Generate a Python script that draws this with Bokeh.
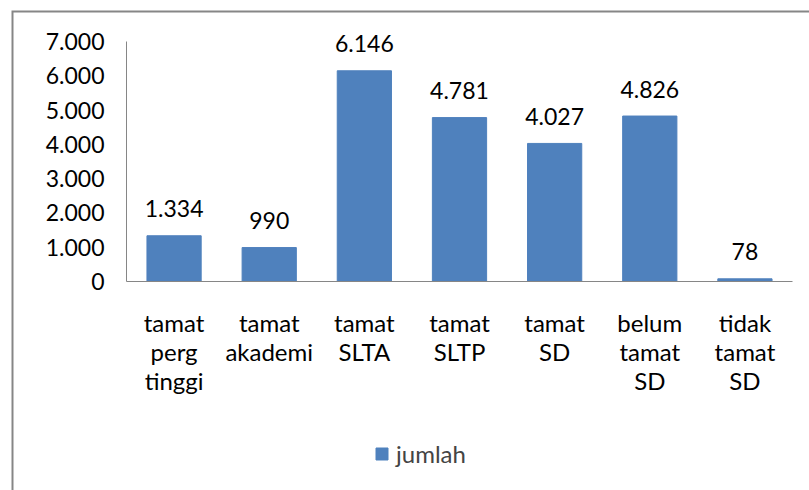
from bokeh.plotting import figure
from bokeh.models import ColumnDataSource, Range1d, FixedTicker, Legend, LegendItem, LinearAxis
from bokeh.embed import file_html
from bokeh.resources import INLINE
from bokeh.core.properties import value

categories = ["tamat\nperg\ntinggi", "tamat\nakademi", "tamat\nSLTA", "tamat\nSLTP",
              "tamat\nSD", "belum\ntamat\nSD", "tidak\ntamat\nSD"]
jumlah = [1334, 990, 6146, 4781, 4027, 4826, 78]
value_labels = ["1.334", "990", "6.146", "4.781", "4.027", "4.826", "78"]
y_ticks = [0, 1000, 2000, 3000, 4000, 5000, 6000, 7000]
y_tick_labels = ["0", "1.000", "2.000", "3.000", "4.000", "5.000", "6.000", "7.000"]
series_name = "jumlah"

FONT = "Lato"
BLUE = "#4F81BD"
GRAY = "#868686"

# layout in pixels (canvas == frame)
W, H = 809, 490
AX_L, AX_R = 126, 792       # category axis extent
Y0_PX, YMAX_PX = 281, 41    # pixel rows of 0 and of the top tick
n = len(categories)
ppx = (AX_R - AX_L) / n
ppy = (Y0_PX - YMAX_PX) / y_ticks[-1]
def x_of(px): return -0.5 + (px - AX_L) / ppx
def y_of(py): return (Y0_PX - py) / ppy

idx = list(range(n))
src = ColumnDataSource(dict(x=idx, val=jumlah, lab=value_labels))

p = figure(width=W, height=H, output_backend="svg", toolbar_location=None,
           x_range=Range1d(x_of(0), x_of(W)), y_range=Range1d(y_of(H), y_of(0)),
           x_axis_location=None, y_axis_location=None,
           min_border_left=0, min_border_right=0, min_border_top=0, min_border_bottom=0)
p.outline_line_color = None
p.xgrid.grid_line_color = None
p.ygrid.grid_line_color = None

# chart-area border: only its top and left edges fall inside the picture
p.line(x=[x_of(12), x_of(12), x_of(W + 50)], y=[y_of(H + 50), y_of(11), y_of(11)],
       line_color=GRAY, line_width=2, line_join="miter")

r = p.vbar(x="x", top="val", width=0.57, source=src, fill_color=BLUE, line_color=BLUE)
p.text(x="x", y="val", text="lab", source=src, text_align="center", text_baseline="middle",
       y_offset=-27, text_font=value(FONT), text_font_size="23px", text_color="black")

xaxis = LinearAxis(fixed_location=0, bounds=(-0.5, n - 0.5),
                   ticker=FixedTicker(ticks=idx),
                   major_label_overrides={i: c for i, c in zip(idx, categories)})
yaxis = LinearAxis(fixed_location=-0.5, bounds=(y_ticks[0], y_ticks[-1]),
                   ticker=FixedTicker(ticks=y_ticks),
                   major_label_overrides={t: l for t, l in zip(y_ticks, y_tick_labels)})
for ax in (xaxis, yaxis):
    ax.axis_line_color = GRAY
    ax.major_tick_line_color = None
    ax.minor_tick_line_color = None
    ax.major_label_text_font = FONT
    ax.major_label_text_color = "black"
xaxis.major_label_text_font_size = "24px"
yaxis.major_label_text_font_size = "23px"
yaxis.major_label_standoff = 16
xaxis.major_label_standoff = 20
xaxis.major_label_text_line_height = 1.0
p.add_layout(xaxis, "below")
p.add_layout(yaxis, "left")

legend = Legend(items=[LegendItem(label=series_name, renderers=[r])], location=(374, 22),
                orientation="horizontal", padding=0, margin=0, border_line_color=None,
                background_fill_alpha=0, glyph_width=15, glyph_height=15, label_height=15,
                label_standoff=7, label_text_font=FONT, label_text_font_size="24px")
p.add_layout(legend, "center")

open("out.html", "w").write(file_html(p, INLINE))
